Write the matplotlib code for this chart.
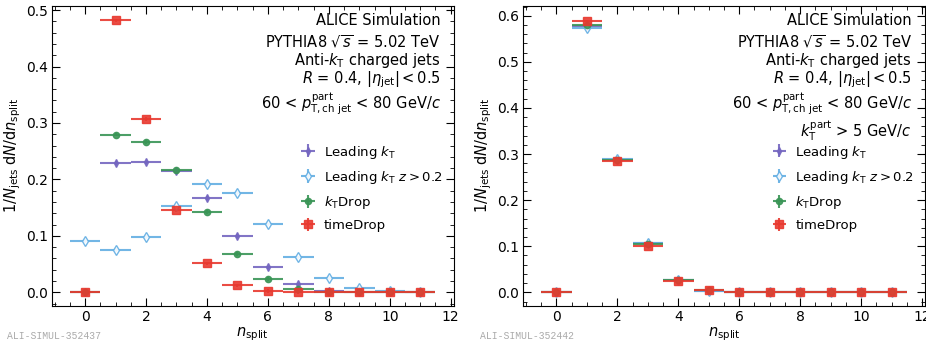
import numpy as np
import matplotlib
matplotlib.use("Agg")
import matplotlib.pyplot as plt
from matplotlib.ticker import MultipleLocator, FormatStrFormatter

plt.rcParams['mathtext.fontset'] = 'dejavusans'

n_split = np.arange(12)

# left panel: 60 < pT < 80
lead_kt_l = [0.0, 0.229, 0.230, 0.2145, 0.167, 0.100, 0.044, 0.014, 0.003, 0.0005, 0.0001, 0.0]
lead_kt_z_l = [0.091, 0.075, 0.098, 0.1525, 0.192, 0.176, 0.1205, 0.062, 0.025, 0.0076, 0.0023, 0.0006]
kt_drop_l = [0.0, 0.2795, 0.266, 0.216, 0.142, 0.068, 0.0236, 0.0064, 0.0012, 0.0002, 0.0, 0.0]
time_drop_l = [0.0, 0.482, 0.307, 0.1455, 0.0515, 0.0125, 0.0023, 0.0003, 0.0, 0.0, 0.0, 0.0]

# right panel: additional kT > 5 GeV/c
lead_kt_r = [0.0, 0.577, 0.288, 0.107, 0.0265, 0.004, 0.0003, 0.0, 0.0, 0.0, 0.0, 0.0]
lead_kt_z_r = [0.0, 0.574, 0.2895, 0.1078, 0.027, 0.004, 0.0003, 0.0, 0.0, 0.0, 0.0, 0.0]
kt_drop_r = [0.0, 0.5805, 0.2865, 0.1056, 0.026, 0.0042, 0.0003, 0.0, 0.0, 0.0, 0.0, 0.0]
time_drop_r = [0.0, 0.5877, 0.285, 0.1005, 0.0245, 0.0043, 0.0003, 0.0, 0.0, 0.0, 0.0, 0.0]

labels = [r'Leading $k_\mathrm{T}$', r'Leading $k_\mathrm{T}$ $z > 0.2$', r'$k_\mathrm{T}$Drop', 'timeDrop']
colors = ['#7466c0', '#63aee3', '#3a9556', '#e8392f']
markers = ['d', 'd', 'o', 's']
msizes = [4, 5.5, 4.5, 5.5]
faces = ['#7466c0', 'white', '#3a9556', '#e8392f']

fig = plt.figure(figsize=(9.26, 3.49), dpi=100)
ax1 = fig.add_axes([0.056, 0.124, 0.434, 0.86])
ax2 = fig.add_axes([0.565, 0.124, 0.434, 0.86])


def draw(ax, series, yerr):
    for y, lab, c, m, ms, fc in zip(series, labels, colors, markers, msizes, faces):
        ax.errorbar(n_split, y, xerr=0.5, yerr=yerr, fmt=m, color=c, mfc=fc, mec=c,
                    ms=ms, mew=1.0, elinewidth=1.5, ecolor=c, capsize=0,
                    alpha=0.9, label=lab)
    ax.set_xlim(-1.09, 12.1)
    ax.xaxis.set_major_locator(MultipleLocator(2))
    ax.xaxis.set_minor_locator(MultipleLocator(0.5))
    ax.yaxis.set_major_locator(MultipleLocator(0.1))
    ax.yaxis.set_minor_locator(MultipleLocator(0.02))
    ax.tick_params(which='both', direction='in', top=True, right=True, labelsize=10, pad=3)
    ax.tick_params(which='major', length=6)
    ax.tick_params(which='minor', length=3)
    ax.set_xlabel(r'$n_\mathrm{split}$', fontsize=10.5, labelpad=1)
    ax.set_ylabel(r'$1/N_\mathrm{jets}\;\mathrm{d}N/\mathrm{d}n_\mathrm{split}$', fontsize=10.5, labelpad=2)
    ax.yaxis.set_major_formatter(FormatStrFormatter('%.1f'))


draw(ax1, [lead_kt_l, lead_kt_z_l, kt_drop_l, time_drop_l], 0.003)
ax1.set_ylim(-0.0238, 0.508)
draw(ax2, [lead_kt_r, lead_kt_z_r, kt_drop_r, time_drop_r], 0.004)
ax2.set_ylim(-0.029, 0.622)

info = ['ALICE Simulation',
        r'PYTHIA8 $\sqrt{s}$ = 5.02 TeV',
        r'Anti-$k_\mathrm{T}$ charged jets',
        r'$R$ = 0.4, $|\eta_\mathrm{jet}| < 0.5$',
        r'60 < $p_\mathrm{T,ch\ jet}^\mathrm{part}$ < 80 GeV/$c$']
ypos = [0.949, 0.879, 0.816, 0.752, 0.672]
for ax in (ax1, ax2):
    for t, yy in zip(info, ypos):
        ax.text(0.967, yy, t, transform=ax.transAxes,
                ha='right', va='center', fontsize=10.5)
ax2.text(0.967, 0.585, r'$k_\mathrm{T}^\mathrm{part}$ > 5 GeV/$c$', transform=ax2.transAxes,
         ha='right', va='center', fontsize=10.5)

for ax in (ax1, ax2):
    ax.legend(loc='upper left', bbox_to_anchor=(0.585, 0.58), frameon=False, fontsize=9.5,
              handlelength=1.4, handletextpad=0.5, labelspacing=0.62)

fig.text(0.008, 0.03, 'ALI-SIMUL-352437', family='Liberation Mono', color='#aaaaaa', fontsize=7)
fig.text(0.518, 0.03, 'ALI-SIMUL-352442', family='Liberation Mono', color='#aaaaaa', fontsize=7)

fig.savefig('out.png', dpi=100)
